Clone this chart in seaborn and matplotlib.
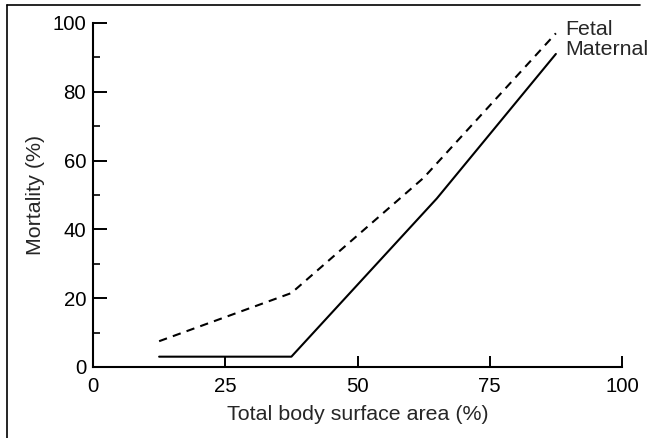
import matplotlib
matplotlib.use("Agg")
import matplotlib.pyplot as plt
import seaborn as sns
import pandas as pd
from matplotlib.lines import Line2D

# Data
fetal_x = [12.5, 37.5, 62.5, 87.5]
fetal_y = [7.5, 21.5, 55, 97]
maternal_x = [12.5, 37.5, 65, 87.5]
maternal_y = [3, 3, 49, 91]
x_ticks = [0, 25, 50, 75, 100]
y_ticks = [0, 20, 40, 60, 80, 100]

sns.set_theme(style="ticks")
plt.rcParams['font.family'] = ['Liberation Sans', 'DejaVu Sans']

fig = plt.figure(figsize=(6.47, 4.38), dpi=100)
ax = fig.add_axes([93/647, 1-367/438, (622-93)/647, (367-23)/438])

df_f = pd.DataFrame({"x": fetal_x, "y": fetal_y})
df_m = pd.DataFrame({"x": maternal_x, "y": maternal_y})
sns.lineplot(data=df_f, x="x", y="y", ax=ax, color="black", lw=1.5,
             dashes=False, linestyle=(0, (4, 3)))
sns.lineplot(data=df_m, x="x", y="y", ax=ax, color="black", lw=1.5)

ax.set_xlim(0, 100)
ax.set_ylim(0, 100)
ax.set_xticks(x_ticks)
ax.set_yticks(y_ticks)
ax.set_yticks([10, 30, 50, 70, 90], minor=True)
ax.set_xticklabels([str(t) for t in x_ticks])
ax.set_yticklabels([str(t) for t in y_ticks])
ax.tick_params(axis='y', which='major', direction='in', length=10, width=1.4,
               labelsize=14.7, pad=5, colors='black')
ax.tick_params(axis='y', which='minor', direction='in', length=5, width=1.4)
ax.tick_params(axis='x', which='major', direction='in', length=8, width=1.4,
               labelsize=14.7, pad=7, colors='black')
for s in ['top', 'right']:
    ax.spines[s].set_visible(False)
for s in ['left', 'bottom']:
    ax.spines[s].set_linewidth(1.5)
    ax.spines[s].set_color('black')

ax.set_xlabel("Total body surface area (%)", fontsize=15.4, labelpad=7)
ax.set_ylabel("Mortality (%)", fontsize=15.4, labelpad=5)

ax.text(89.2, 98.1, "Fetal", fontsize=15.4, va='center', ha='left', clip_on=False)
ax.text(89.2, 92.2, "Maternal", fontsize=15.4, va='center', ha='left', clip_on=False)

# Scanned frame: top and left border lines
fig.add_artist(Line2D([7/647, 640/647], [1-5/438, 1-5/438], transform=fig.transFigure,
                      color='black', lw=1.2))
fig.add_artist(Line2D([7/647, 7/647], [0, 1-5/438], transform=fig.transFigure,
                      color='black', lw=1.2))

fig.savefig("out.png", dpi=100)
